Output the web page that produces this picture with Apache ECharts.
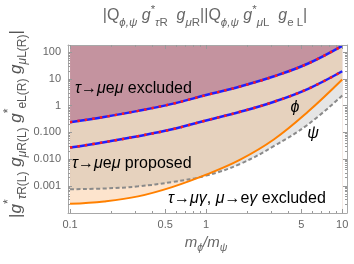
<!DOCTYPE html>
<html>
<head>
<meta charset="utf-8">
<script src="https://cdn.jsdelivr.net/npm/echarts@6/dist/echarts.min.js"></script>
<style>html,body{margin:0;padding:0;background:#fff}#c{width:354px;height:264px}</style>
</head>
<body>
<div id="c"></div>
<script>
const mRatio        = [0.1, 0.178, 0.316, 0.562, 1, 1.78, 3.16, 5.62, 10];
const excludedBound = [0.24, 0.38, 0.64, 1.17, 2.5, 5.25, 12.6, 38, 174];
const proposedBound = [0.027, 0.043, 0.072, 0.13, 0.28, 0.59, 1.41, 4.3, 19.5];
const phiBound      = [0.00021, 0.00026, 0.0004, 0.00089, 0.0026, 0.0095, 0.055, 0.60, 9.5];
const psiBound      = [0.00074, 0.00079, 0.00095, 0.00138, 0.0024, 0.0066, 0.031, 0.20, 2.4];
const fillTop       = 176;
const xTickMajor  = [0.1, 0.5, 1, 5, 10];
const xTickLabels = ['0.1', '0.5', '1', '5', '10'];
const xTickMinor  = [0.2, 0.3, 0.4, 0.6, 0.7, 0.8, 0.9, 2, 3, 4, 6, 7, 8, 9];
const yTickMajor  = [0.001, 0.01, 0.1, 1, 10, 100];
const yTickLabels = ['0.001', '0.010', '0.100', '1', '10', '100'];
const yTickMinor  = [];
[-4, -3, -2, -1, 0, 1].forEach(e => { for (let k = 2; k <= 9; k++) yTickMinor.push(k * Math.pow(10, e)); });

const L = Math.log10;
const XMIN = -1.015, XMAX = 1.035, YMIN = -4.02, YMAX = 2.273;
const pts = arr => mRatio.map((m, i) => [L(m), L(arr[i])]);
const lowEnv = mRatio.map((m, i) => Math.min(phiBound[i], psiBound[i]));
const FONT = 'Liberation Sans, Arial, sans-serif';
const FRAME = '#a8a8a8', TXT = '#666';
const SMOOTH = 0.4;

function lab(ticks, labels) {
  const lt = ticks.map(L);
  return v => { const i = lt.findIndex(t => Math.abs(t - v) < 1e-6); return i < 0 ? '' : labels[i]; };
}
function axis(dim, pos, ticks, len, main, labels) {
  const a = {
    type: 'value', position: pos, min: dim === 'x' ? XMIN : YMIN, max: dim === 'x' ? XMAX : YMAX,
    z: 10,
    axisLine: { show: main, onZero: false, lineStyle: { color: FRAME, width: 1 } },
    axisTick: { show: true, inside: true, length: len, customValues: ticks.map(L), lineStyle: { color: '#999', width: 1 } },
    axisLabel: { show: !!labels },
    splitLine: { show: false }
  };
  if (labels) {
    a.axisLabel = { show: true, customValues: ticks.map(L), formatter: lab(ticks, labels),
      color: TXT, fontSize: 11, fontFamily: FONT, margin: dim === 'x' ? 6 : 7 };
  }
  return a;
}

function area(data, color, z) {
  return { type: 'line', data: data, smooth: SMOOTH, symbol: 'none', silent: true, z: z,
    lineStyle: { width: 0 }, areaStyle: { color: color, opacity: 1, origin: 'start' } };
}
function line(data, color, width, type, z) {
  return { type: 'line', data: data, smooth: SMOOTH, symbol: 'none', silent: true, z: z,
    lineStyle: { color: color, width: width, type: type, cap: 'butt' } };
}

const chart = echarts.init(document.getElementById('c'), null, { renderer: 'canvas' });
const sub = { fontSize: 11.5, verticalAlign: 'bottom', lineHeight: 12, fill: TXT, fontFamily: FONT };
const subI = Object.assign({}, sub, { fontStyle: 'italic' });
const sup = { fontSize: 11.5, verticalAlign: 'top', lineHeight: 12, fill: TXT, fontFamily: FONT };
const mainI = { fontSize: 16, fontStyle: 'italic', fill: TXT, fontFamily: FONT, lineHeight: 25 };
const annoRich = { g: { fontStyle: 'italic', fontSize: 16, fontFamily: FONT, fill: '#000' } };
function anno(x, y, text, align) {
  return { type: 'text', x: x, y: y, z: 20, silent: true,
    style: { text: text, fontSize: 16, fontFamily: FONT, fill: '#000', align: align || 'left', verticalAlign: 'middle', rich: annoRich } };
}

const option = {
  animation: false,
  grid: { left: 68, right: 7, top: 45, bottom: 51, outerBoundsMode: 'none', containLabel: false },
  xAxis: [
    axis('x', 'bottom', xTickMajor, 4, true, xTickLabels),
    axis('x', 'bottom', xTickMinor, 2, false),
    axis('x', 'top', xTickMajor, 4, true),
    axis('x', 'top', xTickMinor, 2, false)
  ],
  yAxis: [
    axis('y', 'left', yTickMajor, 4, true, yTickLabels),
    axis('y', 'left', yTickMinor, 2, false),
    axis('y', 'right', yTickMajor, 4, true),
    axis('y', 'right', yTickMinor, 2, false)
  ],
  series: [
    area(mRatio.map(m => [L(m), L(fillTop)]), '#c4939f', 1),
    area(pts(excludedBound), '#e6d2be', 2),
    area(pts(psiBound), '#fde4cd', 3),
    area(pts(phiBound), '#e5e5e5', 4),
    area(pts(lowEnv), '#ffffff', 5),
    line(pts(psiBound), '#8a8a8a', 2, [4, 2.5], 6),
    line(pts(phiBound), '#ff8000', 2, 'solid', 7),
    line(pts(excludedBound), '#1f1fff', 2.5, 'solid', 8),
    line(pts(excludedBound), '#ff1a1a', 2.5, [2.5, 5], 9),
    line(pts(proposedBound), '#1f1fff', 2.5, 'solid', 8),
    line(pts(proposedBound), '#ff1a1a', 2.5, [2.5, 5], 9)
  ],
  graphic: [
    { type: 'text', x: 205, y: 16, silent: true,
      style: { text: '|Q{si|ϕ,ψ} {i|g}{sp|*}{si|τ}{s|R}  {i|g}{si|μ}{s|R}||Q{si|ϕ,ψ} {i|g}{sp|*}{si|μ}{s|L}  {i|g}{s|e L}|',
        fontSize: 16, fontFamily: FONT, fill: TXT, align: 'center', verticalAlign: 'middle', lineHeight: 25,
        rich: { s: sub, si: subI, sp: sup, i: mainI } } },
    { type: 'text', x: 16, y: 124, rotation: Math.PI / 2, silent: true,
      style: { text: '|{i|g}{sp|*}{si|τ}{s|R(L)} {i|g}{si|μ}{s|R(L)} {i|g}{sp|*}{s|eL(R)} {i|g}{si|μ}{s|L(R)}|',
        fontSize: 17, fontFamily: FONT, fill: '#555', align: 'center', verticalAlign: 'middle', lineHeight: 26,
        rich: {
          i: { fontSize: 17, fontStyle: 'italic', fill: '#555', fontFamily: FONT, lineHeight: 26 },
          s: { fontSize: 12, verticalAlign: 'bottom', lineHeight: 14, fill: '#555', fontFamily: FONT },
          si: { fontSize: 12, fontStyle: 'italic', verticalAlign: 'bottom', lineHeight: 14, fill: '#555', fontFamily: FONT },
          sp: { fontSize: 12, verticalAlign: 'top', lineHeight: 14, fill: '#555', fontFamily: FONT }
        } } },
    { type: 'text', x: 206, y: 243, silent: true,
      style: { text: '{i|m}{si|ϕ}{i|/m}{si|ψ}', fontSize: 15, fontFamily: FONT, fill: TXT, align: 'center', verticalAlign: 'middle',
        rich: { i: { fontSize: 15, fontStyle: 'italic', fill: TXT, fontFamily: FONT, lineHeight: 22 },
                si: { fontSize: 10.5, fontStyle: 'italic', verticalAlign: 'bottom', lineHeight: 12, fill: TXT, fontFamily: FONT } } } },
    anno(75, 89, '{g|τ}→{g|μ}e{g|μ} excluded'),
    anno(72, 164, '{g|τ}→{g|μ}e{g|μ} proposed'),
    anno(168, 199, '{g|τ}→{g|μγ}, {g|μ}→e{g|γ} excluded'),
    anno(295, 108, '{g|ϕ}', 'center'),
    anno(313, 134, '{g|ψ}', 'center')
  ]
};
chart.setOption(option);
</script>
</body>
</html>
